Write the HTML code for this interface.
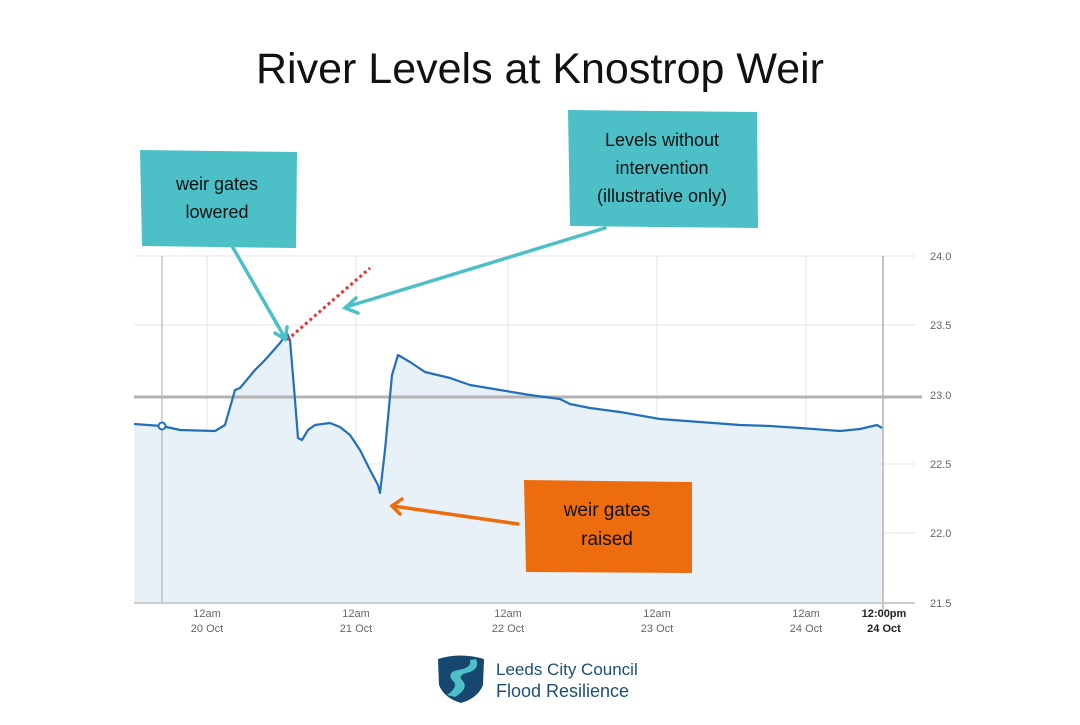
<!DOCTYPE html>
<html><head><meta charset="utf-8"><style>
body{margin:0;background:#fff;width:1080px;height:720px;overflow:hidden;font-family:"Liberation Sans","DejaVu Sans",sans-serif}
</style></head><body>
<svg width="1080" height="720" viewBox="0 0 1080 720" xmlns="http://www.w3.org/2000/svg">
<text x="540" y="83" text-anchor="middle" font-size="43" fill="#111" font-family="Liberation Sans, sans-serif">River Levels at Knostrop Weir</text>
<g stroke="#e6e6e6" stroke-width="1">
<line x1="134" y1="256" x2="915" y2="256"/><line x1="134" y1="325" x2="915" y2="325"/><line x1="134" y1="464" x2="915" y2="464"/><line x1="134" y1="533" x2="915" y2="533"/>
<line x1="207" y1="256" x2="207" y2="603"/><line x1="356" y1="256" x2="356" y2="603"/><line x1="508" y1="256" x2="508" y2="603"/><line x1="657" y1="256" x2="657" y2="603"/><line x1="806" y1="256" x2="806" y2="603"/>
</g>
<path d="M134,424 L162,426 L180,430 L215,431 L225,425 L235,390 L240,388 L255,370 L265,360 L280,343 L287,333 L290,340 L295,400 L298,438 L302,440 L308,430 L315,425 L330,423 L340,427 L350,435 L360,450 L370,470 L378,485 L380,493 L385,450 L392,375 L398,355 L410,362 L425,372 L450,378 L470,385 L500,390 L530,395 L560,399 L570,404 L590,408 L620,412 L660,419 L700,422 L740,425 L770,426 L800,428 L840,431 L860,429 L877,425 L882,428 L882,603 L134,603 Z" fill="#e8f0f8"/>
<line x1="162" y1="256" x2="162" y2="603" stroke="#aaa"/>
<line x1="883" y1="256" x2="883" y2="610" stroke="#888"/>
<line x1="134" y1="603" x2="915" y2="603" stroke="#ccc" stroke-width="2"/>
<line x1="134" y1="397" x2="922" y2="397" stroke="#b3b3b3" stroke-width="3"/>
<path d="M134,424 L162,426 L180,430 L215,431 L225,425 L235,390 L240,388 L255,370 L265,360 L280,343 L287,333 L290,340 L295,400 L298,438 L302,440 L308,430 L315,425 L330,423 L340,427 L350,435 L360,450 L370,470 L378,485 L380,493 L385,450 L392,375 L398,355 L410,362 L425,372 L450,378 L470,385 L500,390 L530,395 L560,399 L570,404 L590,408 L620,412 L660,419 L700,422 L740,425 L770,426 L800,428 L840,431 L860,429 L877,425 L882,428" fill="none" stroke="#2270bb" stroke-width="2.2" stroke-linejoin="round"/>
<circle cx="162" cy="426" r="3.5" fill="#fff" stroke="#2270bb" stroke-width="2"/>
<line x1="287" y1="340" x2="370" y2="268" stroke="#f03030" stroke-width="3" stroke-dasharray="3,3"/>
<g font-size="11" fill="#666">
<text x="930" y="260">24.0</text><text x="930" y="329">23.5</text><text x="930" y="399">23.0</text><text x="930" y="468">22.5</text><text x="930" y="537">22.0</text><text x="930" y="607">21.5</text>
</g>
<g font-size="11" fill="#666" text-anchor="middle">
<text x="207" y="617">12am</text><text x="207" y="632">20 Oct</text>
<text x="356" y="617">12am</text><text x="356" y="632">21 Oct</text>
<text x="508" y="617">12am</text><text x="508" y="632">22 Oct</text>
<text x="657" y="617">12am</text><text x="657" y="632">23 Oct</text>
<text x="806" y="617">12am</text><text x="806" y="632">24 Oct</text>
<text x="884" y="617" font-weight="bold" fill="#222">12:00pm</text><text x="884" y="632" font-weight="bold" fill="#222">24 Oct</text>
</g>
<path d="M140,150 L297,152 L296,248 L142,246 Z" fill="#4cbfc7"/>
<text x="217" y="190" text-anchor="middle" font-size="18" fill="#111">weir gates</text>
<text x="217" y="218" text-anchor="middle" font-size="18" fill="#111">lowered</text>
<path d="M568,110 L757,112 L758,228 L570,226 Z" fill="#4cbfc7"/>
<text x="662" y="146" text-anchor="middle" font-size="18" fill="#111">Levels without</text>
<text x="662" y="174" text-anchor="middle" font-size="18" fill="#111">intervention</text>
<text x="662" y="202" text-anchor="middle" font-size="18" fill="#111">(illustrative only)</text>
<path d="M524,480 L692,482 L692,573 L526,572 Z" fill="#ec6c0e"/>
<text x="607" y="516" text-anchor="middle" font-size="19" fill="#111">weir gates</text>
<text x="607" y="545" text-anchor="middle" font-size="19" fill="#111">raised</text>
<g stroke="#4cbfc7" stroke-width="3.5" fill="none" stroke-linecap="round">
<line x1="232" y1="246" x2="285" y2="338"/><polyline points="275,333 285,339 287,327"/>
<line x1="605" y1="228" x2="346" y2="307"/><polyline points="356,298 345,308 358,313"/>
</g>
<g stroke="#ec6c0e" stroke-width="3.5" fill="none" stroke-linecap="round">
<line x1="518" y1="524" x2="393" y2="506"/><polyline points="402,499 392,506 400,514"/>
</g>
<path d="M438,659 Q460,652 484,659 L483,685 Q478,698 461,703 Q444,698 439,685 Z" fill="#16476e"/>
<path d="M470,660 Q472,668 458,670 Q447,672 452,680 Q460,686 447,695 L455,697 Q470,688 462,680 Q457,675 470,672 Q480,668 476,659 Z" fill="#4cbfc7"/>
<text x="496" y="675" font-size="17" fill="#1d4f78">Leeds City Council</text>
<text x="496" y="697" font-size="18" fill="#1d4f78">Flood Resilience</text>
</svg>
</body></html>
